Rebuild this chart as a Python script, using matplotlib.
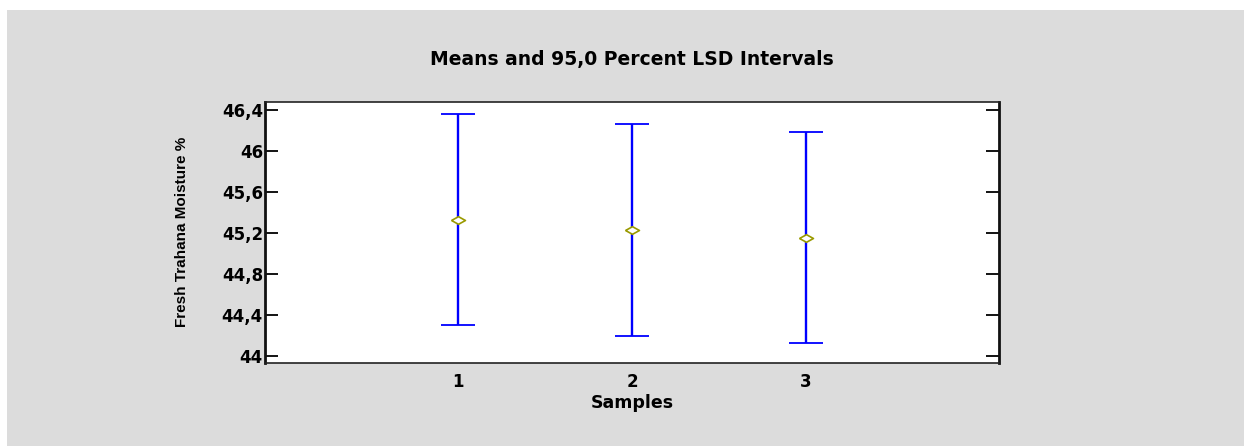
import matplotlib
matplotlib.use('Agg')
import numpy as np
import matplotlib.pyplot as plt
from matplotlib.patches import Rectangle
from matplotlib.ticker import FuncFormatter

samples = [1, 2, 3]
means = [45.326, 45.228, 45.153]
lsd_low = [44.297, 44.195, 44.124]
lsd_high = [46.355, 46.260, 46.185]
y_ticks = [44.0, 44.4, 44.8, 45.2, 45.6, 46.0, 46.4]

fig = plt.figure(figsize=(12.44, 4.46), dpi=100, facecolor='white')
# grey panel behind the plot
fig.patches.append(Rectangle((7 / 1244, 0), 1, 1 - 10 / 446, transform=fig.transFigure,
                             facecolor='#dcdcdc', edgecolor='none', zorder=-10))

ax = fig.add_axes([265 / 1244, 83 / 446, 734 / 1244, 261 / 446])
ax.set_zorder(1)
ax.set_facecolor('white')

m = np.array(means)
yerr = [m - np.array(lsd_low), np.array(lsd_high) - m]
ax.errorbar(samples, means, yerr=yerr, fmt='none', ecolor='#0000ff',
            elinewidth=1.7, capsize=12.5, capthick=1.3)

diamond = [(-1, 0), (0, 0.55), (1, 0), (0, -0.55), (-1, 0)]
ax.plot(samples, means, linestyle='none', marker=diamond, markersize=10,
        markerfacecolor='white', markeredgecolor='#9a9a00', markeredgewidth=1.2, zorder=3)

ax.set_xlim(-0.113, 4.113)
ax.set_ylim(43.93, 46.475)
ax.set_xticks(samples)
ax.set_xticklabels([str(s) for s in samples])
ax.set_yticks(y_ticks)
ax.yaxis.set_major_formatter(FuncFormatter(lambda v, p: ('%g' % round(v, 1)).replace('.', ',')))

ax.tick_params(axis='y', direction='in', length=9.5, width=1.3, left=True, right=True,
               pad=1.5, labelsize=12, color='black')
ax.tick_params(axis='x', length=0, pad=7, labelsize=12)
for lab in ax.get_xticklabels() + ax.get_yticklabels():
    lab.set_fontweight('bold')

for side in ['left', 'right']:
    ax.spines[side].set_linewidth(2.0)
    ax.spines[side].set_color('#111111')
for side in ['top', 'bottom']:
    ax.spines[side].set_linewidth(1.2)
    ax.spines[side].set_color('#222222')

ax.set_xlabel('Samples', fontsize=12.5, fontweight='bold', labelpad=2)
fig.text(182 / 1244, 1 - 232 / 446, 'Fresh Trahana Moisture %', rotation=90,
         ha='center', va='center', fontsize=11, fontweight='bold',
         family=['Liberation Sans Narrow', 'Liberation Sans', 'DejaVu Sans'])
fig.text(632 / 1244, 1 - 59 / 446, 'Means and 95,0 Percent LSD Intervals',
         ha='center', va='center', fontsize=13.5, fontweight='bold')

fig.savefig('out.png', dpi=100, facecolor=fig.get_facecolor())
